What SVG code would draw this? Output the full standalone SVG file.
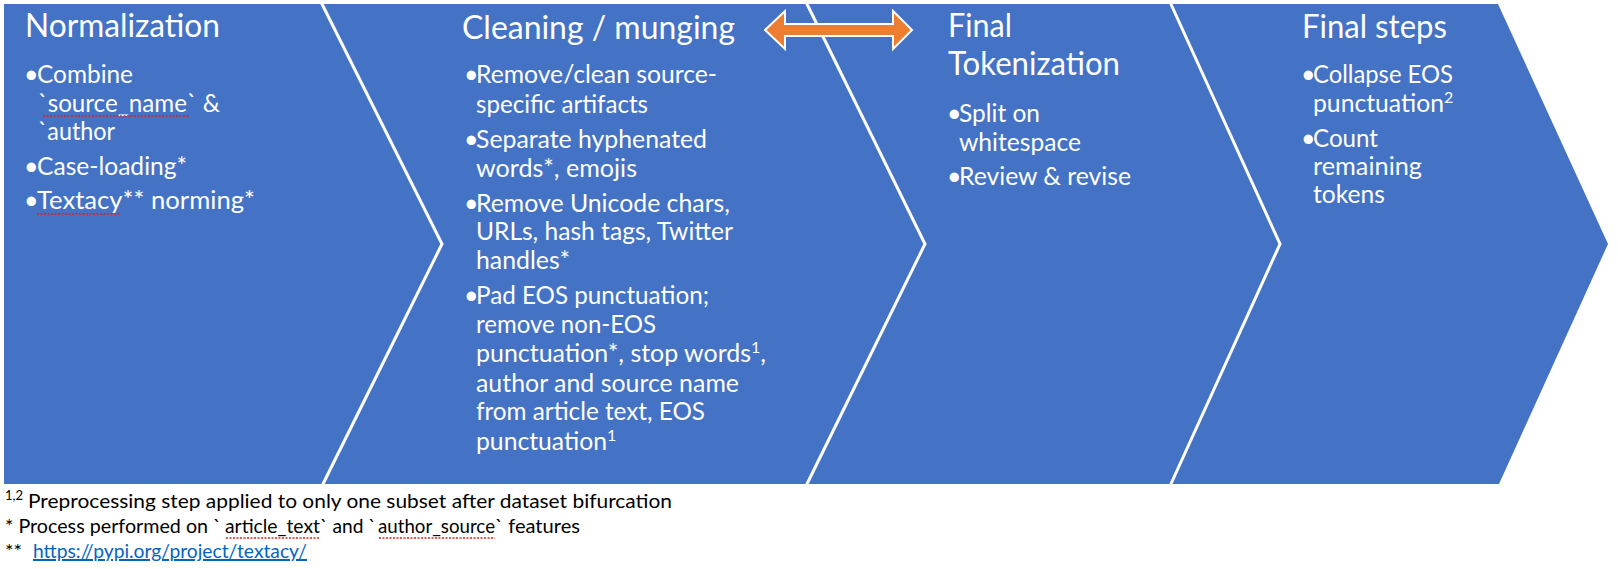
<svg xmlns="http://www.w3.org/2000/svg" width="1618" height="569" viewBox="0 0 1618 569">
<style>
.bg{fill:#4472C4}
.sep{fill:none;stroke:#FFFFFF;stroke-width:3;stroke-linejoin:miter}
.t{font-family:Lato,"Liberation Sans",sans-serif;fill:#FFFFFF}
.h{font-size:32px}
.b{font-size:25px}
.sup{font-size:16px}
.fn{font-family:Lato,"Liberation Sans",sans-serif;font-size:20px;fill:#000000}
.link{fill:#0563C1;text-decoration:underline}
.sq{stroke:#E02020;stroke-width:1.5;stroke-dasharray:2 1.5;fill:none}
.arrow{fill:#ED7D31;stroke:#FFFFFF;stroke-width:2;stroke-linejoin:miter}
</style>
<rect width="1618" height="569" fill="#FFFFFF"/>
<g id="steps-background">
<polygon class="bg" points="4,4 1498,4 1608,244 1499,484 4,484"/>
</g>
<g id="connectors">
<polyline class="sep" points="321,2 442,244 322,486"/>
<polyline class="sep" points="806,2 925,244 806,486"/>
<polyline class="sep" points="1170,2 1280,244 1170,486"/>
<path class="arrow" d="M765,30 L785,11 L785,24 L893,24 L893,11 L912,30 L893,49 L893,36 L785,36 L785,49 Z"/>
</g>
<g id="normalization" class="t">
<text class="h" x="25" y="37" textLength="195" lengthAdjust="spacingAndGlyphs">Normalization</text>
<text class="b" y="83"><tspan x="24">•</tspan><tspan x="37" textLength="96" lengthAdjust="spacingAndGlyphs">Combine</tspan></text>
<text class="b" x="38" y="112" textLength="182" lengthAdjust="spacingAndGlyphs">`source_name` &amp;</text>
<text class="b" x="38" y="140" textLength="77" lengthAdjust="spacingAndGlyphs">`author</text>
<text class="b" y="175"><tspan x="24">•</tspan><tspan x="37" textLength="150" lengthAdjust="spacingAndGlyphs">Case-loading*</tspan></text>
<text class="b" y="209"><tspan x="24">•</tspan><tspan x="37" textLength="218" lengthAdjust="spacingAndGlyphs">Textacy** norming*</tspan></text>
<line class="sq" x1="43" y1="116" x2="190" y2="116"/>
<line class="sq" x1="37" y1="214" x2="120" y2="214"/>
</g>
<g id="cleaning" class="t">
<text class="h" x="462" y="39" textLength="273" lengthAdjust="spacingAndGlyphs">Cleaning / munging</text>
<text class="b" y="83"><tspan x="464">•</tspan><tspan x="476" textLength="241" lengthAdjust="spacingAndGlyphs">Remove/clean source-</tspan></text>
<text class="b" x="476" y="113" textLength="172" lengthAdjust="spacingAndGlyphs">specific artifacts</text>
<text class="b" y="148"><tspan x="464">•</tspan><tspan x="476" textLength="231" lengthAdjust="spacingAndGlyphs">Separate hyphenated</tspan></text>
<text class="b" x="476" y="177" textLength="161" lengthAdjust="spacingAndGlyphs">words*, emojis</text>
<text class="b" y="212"><tspan x="464">•</tspan><tspan x="476" textLength="254" lengthAdjust="spacingAndGlyphs">Remove Unicode chars,</tspan></text>
<text class="b" x="476" y="240" textLength="257" lengthAdjust="spacingAndGlyphs">URLs, hash tags, Twitter</text>
<text class="b" x="476" y="269" textLength="94" lengthAdjust="spacingAndGlyphs">handles*</text>
<text class="b" y="304"><tspan x="464">•</tspan><tspan x="476" textLength="233" lengthAdjust="spacingAndGlyphs">Pad EOS punctuation;</tspan></text>
<text class="b" x="476" y="333" textLength="180" lengthAdjust="spacingAndGlyphs">remove non-EOS</text>
<text class="b" y="362"><tspan x="476" textLength="275" lengthAdjust="spacingAndGlyphs">punctuation*, stop words</tspan><tspan class="sup" baseline-shift="9">1</tspan><tspan>,</tspan></text>
<text class="b" x="476" y="392" textLength="263" lengthAdjust="spacingAndGlyphs">author and source name</text>
<text class="b" x="476" y="420" textLength="229" lengthAdjust="spacingAndGlyphs">from article text, EOS</text>
<text class="b" y="450"><tspan x="476" textLength="131" lengthAdjust="spacingAndGlyphs">punctuation</tspan><tspan class="sup" baseline-shift="9">1</tspan></text>
</g>
<g id="final-tokenization" class="t">
<text class="h" x="948" y="37" textLength="64" lengthAdjust="spacingAndGlyphs">Final</text>
<text class="h" x="948" y="75" textLength="172" lengthAdjust="spacingAndGlyphs">Tokenization</text>
<text class="b" y="122"><tspan x="947">•</tspan><tspan x="959" textLength="81" lengthAdjust="spacingAndGlyphs">Split on</tspan></text>
<text class="b" x="959" y="151" textLength="122" lengthAdjust="spacingAndGlyphs">whitespace</text>
<text class="b" y="185"><tspan x="947">•</tspan><tspan x="959" textLength="172" lengthAdjust="spacingAndGlyphs">Review &amp; revise</tspan></text>
</g>
<g id="final-steps" class="t">
<text class="h" x="1302" y="38" textLength="145" lengthAdjust="spacingAndGlyphs">Final steps</text>
<text class="b" y="83"><tspan x="1301">•</tspan><tspan x="1313" textLength="140" lengthAdjust="spacingAndGlyphs">Collapse EOS</tspan></text>
<text class="b" y="112"><tspan x="1313" textLength="131" lengthAdjust="spacingAndGlyphs">punctuation</tspan><tspan class="sup" baseline-shift="9">2</tspan></text>
<text class="b" y="147"><tspan x="1301">•</tspan><tspan x="1313" textLength="65" lengthAdjust="spacingAndGlyphs">Count</tspan></text>
<text class="b" x="1313" y="175" textLength="109" lengthAdjust="spacingAndGlyphs">remaining</text>
<text class="b" x="1313" y="203" textLength="72" lengthAdjust="spacingAndGlyphs">tokens</text>
</g>
<g id="footnotes">
<text class="fn" y="508"><tspan x="5" font-size="13" baseline-shift="8">1,2</tspan><tspan x="28" textLength="644" lengthAdjust="spacingAndGlyphs">Preprocessing step applied to only one subset after dataset bifurcation</tspan></text>
<text class="fn" y="533"><tspan x="5" textLength="216" lengthAdjust="spacingAndGlyphs">* Process performed on `</tspan><tspan x="225" textLength="95" lengthAdjust="spacingAndGlyphs">article_text</tspan><tspan x="320" textLength="56" lengthAdjust="spacingAndGlyphs">` and `</tspan><tspan x="378" textLength="117" lengthAdjust="spacingAndGlyphs">author_source</tspan><tspan x="495" textLength="85" lengthAdjust="spacingAndGlyphs">` features</tspan></text>
<text class="fn" y="558"><tspan x="5">**</tspan><tspan class="link" x="33" textLength="274" lengthAdjust="spacingAndGlyphs">https://pypi.org/project/textacy/</tspan></text>
<line class="sq" x1="226" y1="538" x2="320" y2="538"/>
<line class="sq" x1="379" y1="538" x2="495" y2="538"/>
</g>
</svg>
